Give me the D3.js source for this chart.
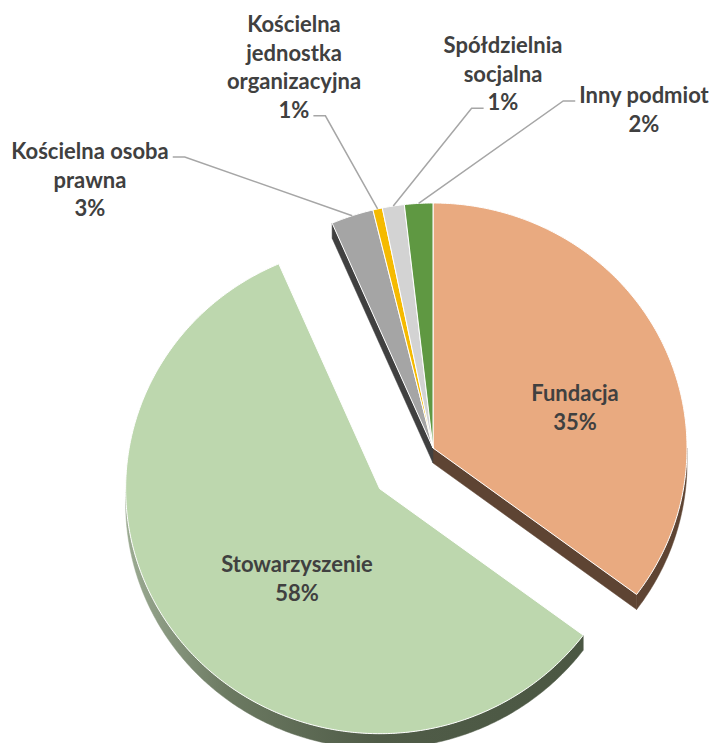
<html>
<head>
<meta charset="utf-8">
<style>
body {
	margin: 0;
	background: #ffffff;
	font-family: 'Lato', sans-serif;
}
svg {
	display: block;
}
.lbl {
	font-weight: bold;
	font-size: 22px;
	fill: #404040;
}
</style>
</head>
<body>
<svg width="715" height="743"></svg>
<script src="https://d3js.org/d3.v7.min.js"></script>
<script>
// Data (clockwise from 12 o'clock)
const categories = ["Fundacja", "Stowarzyszenie", "Kościelna osoba prawna", "Kościelna jednostka organizacyjna", "Spółdzielnia socjalna", "Inny podmiot"];
const values = [35.2, 58.3, 2.7, 0.6, 1.4, 1.8];
const labelLines = [["Fundacja"], ["Stowarzyszenie"], ["Kościelna osoba", "prawna"], ["Kościelna", "jednostka", "organizacyjna"], ["Spółdzielnia", "socjalna"], ["Inny podmiot"]];

// Styles
const topColors = ["#E9AA80", "#BDD7AE", "#A5A5A5", "#F5BA00", "#D3D3D3", "#5F9842"];
const sideColors = ["#5E4433", "url(#sideGreen)", "#404040", "#8A6A00", "#7F7F7F", "#3A5E28"];
const explode = [0, 68, 0, 0, 0, 0];

// Layout: pie centre, radii, depth
const cx = 433, cy = 448, RX = 254, RY = 245, D = 15;
// label anchors relative to pie centre: [x centre, first baseline, leader side (0 none, 1 right, -1 left)]
const labelPos = [[142, -47, 0], [-136, 124, 0], [-343, -289, 1], [-139, -416, 1], [70, -395, -1], [211, -345, -1]];
const lineH = 28.6;

const svg = d3.select("svg");
const defs = svg.append("defs");
const grad = defs.append("linearGradient").attr("id", "sideGreen")
	.attr("x1", 0).attr("x2", 1).attr("y1", 0).attr("y2", 0);
grad.append("stop").attr("offset", 0).attr("stop-color", "#9CAB93");
grad.append("stop").attr("offset", 0.22).attr("stop-color", "#6C7A62");
grad.append("stop").attr("offset", 0.55).attr("stop-color", "#505C48");
grad.append("stop").attr("offset", 1).attr("stop-color", "#4B5743");

const arcs = d3.pie().sort(null).value(d => d)(values);

// offset of each slice (exploded along its mid angle)
const offsets = arcs.map((a, i) => {
	const m = (a.startAngle + a.endAngle) / 2;
	return [explode[i] * Math.sin(m), -explode[i] * Math.cos(m) * RY / RX];
});

function pt(a, o, dy) {
	return [cx + o[0] + RX * Math.sin(a), cy + o[1] - RY * Math.cos(a) + (dy || 0)];
}
function arcPts(a0, a1, o, dy) {
	const n = Math.max(2, Math.ceil(Math.abs(a1 - a0) / 0.01));
	return d3.range(n + 1).map(k => pt(a0 + (a1 - a0) * k / n, o, dy));
}
const line = d3.line();

const gSide = svg.append("g");
const gTop = svg.append("g");

arcs.forEach((a, i) => {
	const o = offsets[i];
	const c = [cx + o[0], cy + o[1]];
	// outer wall, visible between 90 and 270 degrees
	const v0 = Math.max(a.startAngle, Math.PI / 2), v1 = Math.min(a.endAngle, 3 * Math.PI / 2);
	if (v1 > v0) {
		const pts = arcPts(v0, v1, o, 0).concat(arcPts(v1, v0, o, D));
		gSide.append("path").attr("d", line(pts) + "Z")
			.attr("fill", sideColors[i]).attr("stroke", sideColors[i]).attr("stroke-width", 0.5);
	}
	// radial walls next to an exploded neighbour
	const prev = (i + arcs.length - 1) % arcs.length, next = (i + 1) % arcs.length;
	[[a.startAngle, prev, -1], [a.endAngle, next, 1]].forEach(([ang, nb, s]) => {
		if (explode[nb] === explode[i]) return;
		const normal = ang + s * Math.PI / 2;
		if (-Math.cos(normal) <= 0) return;
		const p = pt(ang, o, 0);
		const pts = [c, p, [p[0], p[1] + D], [c[0], c[1] + D]];
		gSide.append("path").attr("d", line(pts) + "Z")
			.attr("fill", sideColors[i]).attr("stroke", sideColors[i]).attr("stroke-width", 0.5);
	});
	// top face
	const topPts = [c].concat(arcPts(a.startAngle, a.endAngle, o, 0));
	gTop.append("path").attr("d", line(topPts) + "Z")
		.attr("fill", topColors[i]).attr("stroke", "#ffffff").attr("stroke-width", 1)
		.attr("stroke-linejoin", "round");
});

// labels
const gLbl = svg.append("g");
arcs.forEach((a, i) => {
	const lp = labelPos[i];
	const x = cx + lp[0], y0 = cy + lp[1];
	const lines = labelLines[i].concat([Math.round(values[i]) + "%"]);
	const texts = lines.map((t, k) => gLbl.append("text").attr("class", "lbl")
		.attr("x", x).attr("y", y0 + k * lineH).attr("text-anchor", "middle").text(t));
	if (lp[2] === 0) return;
	// leader line: from label edge, short stub, then to slice's outer mid point
	let k;
	if (lp[2] === 1) {
		k = (i === 2) ? 0 : lines.length - 1;
	} else {
		k = (i === 5) ? 0 : lines.length - 1;
	}
	const w = texts[k].node().getComputedTextLength();
	const ly = y0 + k * lineH - 2;
	const sx = x + lp[2] * (w / 2 + 4);
	const ex = sx + lp[2] * 12;
	const m = (a.startAngle + a.endAngle) / 2;
	const target = pt(m, offsets[i], 0);
	gLbl.append("path")
		.attr("d", line([[sx, ly], [ex, ly], target]))
		.attr("fill", "none").attr("stroke", "#A6A6A6").attr("stroke-width", 1.5);
});
</script>
</body>
</html>
